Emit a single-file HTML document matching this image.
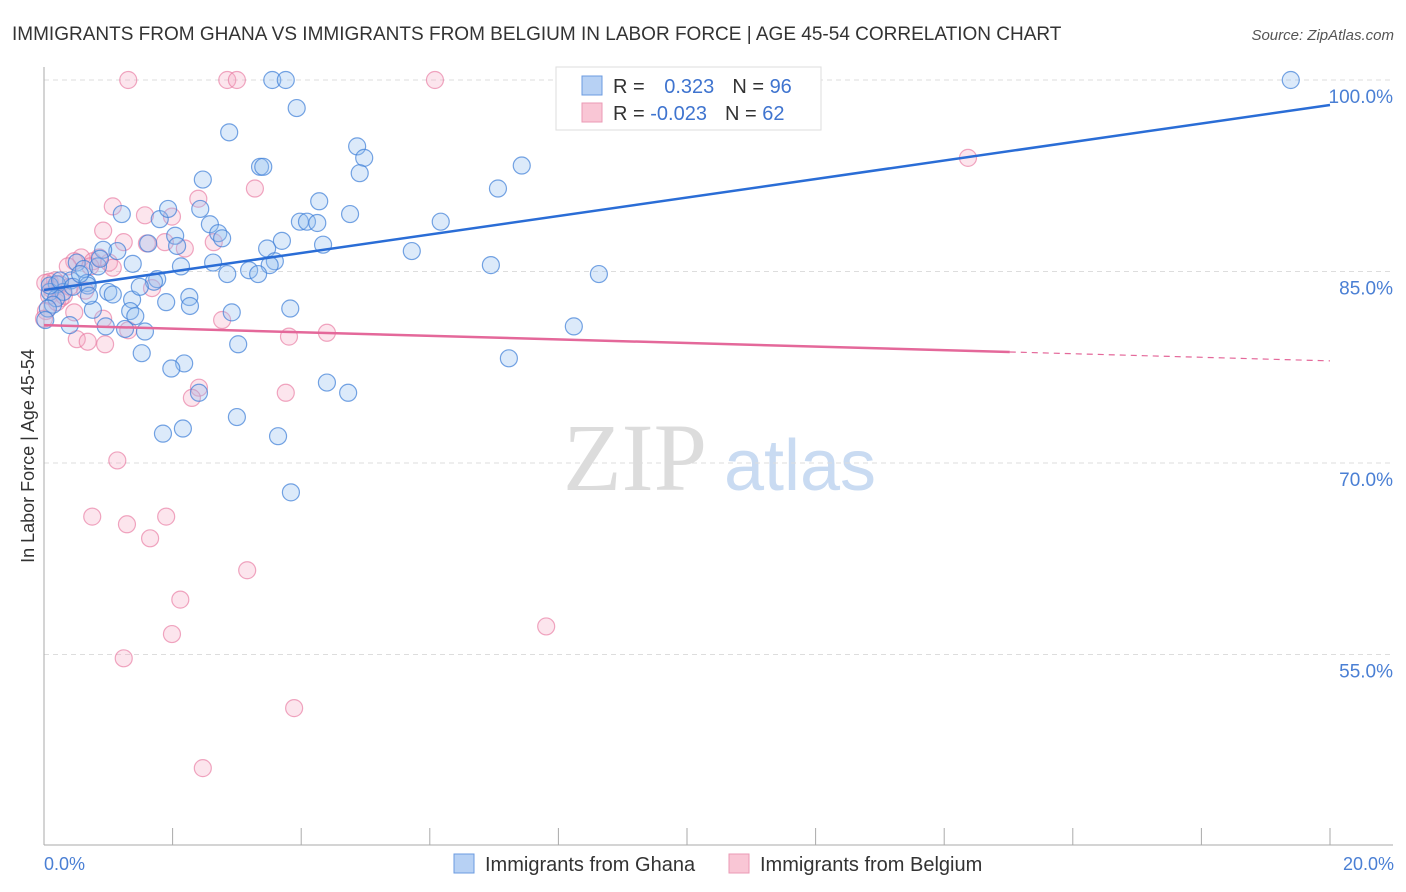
<!DOCTYPE html>
<html><head><meta charset="utf-8">
<style>
body{margin:0;background:#fff;font-family:"Liberation Sans",sans-serif;}
svg{display:block}
</style></head>
<body>
<svg id="chart" width="1406" height="892">
<text x="12" y="40" font-size="19" fill="#333">IMMIGRANTS FROM GHANA VS IMMIGRANTS FROM BELGIUM IN LABOR FORCE | AGE 45-54 CORRELATION CHART</text>
<text x="1394" y="40" font-size="15" fill="#555" font-style="italic" text-anchor="end">Source: ZipAtlas.com</text>
<g>
<text x="635" y="490" font-size="96" fill="#dcdcdc" font-family="Liberation Serif,serif" text-anchor="middle">ZIP</text>
<text x="800" y="490" font-size="72" fill="#c9dbf2" text-anchor="middle">atlas</text>
</g>
<g id="grid"></g>
<g id="axes"></g>
<g id="marks"></g>
<g id="trends"></g>
<text x="34" y="456" font-size="18" fill="#333" text-anchor="middle" transform="rotate(-90 34 456)">In Labor Force | Age 45-54</text>
<text x="44" y="870" font-size="18" fill="#4a7fd4">0.0%</text>
<text x="1394" y="870" font-size="18" fill="#4a7fd4" text-anchor="end">20.0%</text>
<g>
<rect x="556" y="67" width="265" height="63" fill="#fff" stroke="#ddd"/>
<rect x="582" y="76" width="20" height="19" fill="#b7d1f4" stroke="#6b9be0"/>
<rect x="582" y="103" width="20" height="19" fill="#f9c6d5" stroke="#eb9ab5"/>
<text x="613" y="93" font-size="20" fill="#333">R = <tspan fill="#3f74cf" dx="14">0.323</tspan><tspan dx="18">N = </tspan><tspan fill="#3f74cf">96</tspan></text>
<text x="613" y="120" font-size="20" fill="#333">R = <tspan fill="#3f74cf">-0.023</tspan><tspan dx="18">N = </tspan><tspan fill="#3f74cf">62</tspan></text>
</g>
<g>
<rect x="454" y="854" width="20" height="19" fill="#b7d1f4" stroke="#6b9be0"/>
<text x="485" y="871" font-size="20" fill="#333">Immigrants from Ghana</text>
<rect x="729" y="854" width="20" height="19" fill="#f9c6d5" stroke="#eb9ab5"/>
<text x="760" y="871" font-size="20" fill="#333">Immigrants from Belgium</text>
</g>
</svg>
<script>
const yTicks=[100,85,70,55];
const yTickLabels=["100.0%","85.0%","70.0%","55.0%"];
const xTicks=[2,4,6,8,10,12,14,16,18,20];
const ghanaX=[19.39,3.55,3.76,3.93,2.88,3.36,3.41,4.87,4.98,4.91,7.43,7.06,2.47,4.28,4.76,6.17,3.98,4.09,4.25,1.21,1.80,1.93,2.43,2.58,2.04,2.71,2.77,3.70,4.34,3.47,1.62,2.07,5.72,1.14,0.92,6.95,2.63,3.59,3.51,3.19,3.33,2.85,2.13,1.38,8.63,0.51,0.62,0.84,0.67,0.42,0.20,0.30,0.09,0.19,0.14,0.06,0.68,1.00,1.07,1.37,1.76,1.71,1.49,1.90,2.26,2.27,2.92,3.83,1.34,1.42,0.76,0.70,0.40,0.96,1.26,1.57,8.24,3.02,1.52,2.18,1.98,7.23,4.40,4.73,2.41,3.00,2.16,1.85,3.64,3.84,0.09,0.25,0.02,0.45,0.56,0.87];
const ghanaY=[100,100,100,97.8,95.9,93.2,93.2,94.8,93.9,92.7,93.3,91.5,92.2,90.5,89.5,88.9,88.9,88.9,88.8,89.5,89.1,89.9,89.9,88.7,87.8,88.0,87.6,87.4,87.1,86.8,87.2,87.0,86.6,86.6,86.7,85.5,85.7,85.8,85.5,85.1,84.8,84.8,85.4,85.6,84.8,85.7,85.2,85.4,84.1,84.3,84.0,83.4,83.4,82.9,82.4,82.1,83.9,83.4,83.2,82.8,84.4,84.2,83.8,82.6,83.0,82.3,81.8,82.1,81.9,81.5,82.0,83.1,80.8,80.7,80.5,80.3,80.7,79.3,78.6,77.8,77.4,78.2,76.3,75.5,75.5,73.6,72.7,72.3,72.1,67.7,83.9,84.3,81.2,83.8,84.8,86.0];
const belgiumX=[1.31,2.85,3.00,6.08,14.37,3.28,2.40,1.07,1.57,1.99,0.92,1.24,1.60,1.88,2.19,2.64,0.58,0.76,1.01,0.86,0.47,0.37,0.72,1.07,0.17,0.12,0.08,0.26,0.03,0.00,0.47,0.92,1.68,0.51,0.68,0.95,1.31,2.77,3.81,4.40,2.41,2.30,3.76,1.14,0.75,1.29,1.90,1.65,3.16,2.12,1.99,7.81,1.24,3.89,2.47,0.09,0.25,0.64,0.02,0.40,0.20,0.31];
const belgiumY=[100,100,100,100,93.9,91.5,90.7,90.1,89.4,89.3,88.2,87.3,87.2,87.3,86.8,87.3,86.1,85.8,85.7,86.1,85.8,85.4,85.4,85.3,84.3,83.6,83.1,82.9,81.9,81.3,81.8,81.3,83.7,79.7,79.5,79.3,80.4,81.2,79.9,80.2,75.9,75.1,75.5,70.2,65.8,65.2,65.8,64.1,61.6,59.3,56.6,57.2,54.7,50.8,46.1,84.2,84.0,83.5,84.1,83.8,82.6,83.1];
const ghanaTrend=[83.55,98.04];
const belgiumTrend=[80.8,78.0];
const belgiumSolidEnd=15.02;

const NS="http://www.w3.org/2000/svg";
function xs(v){return 44+v/20*1286;}
function ys(v){return 80+(100-v)/15*191.5;}
function mk(tag,attrs,parent){const e=document.createElementNS(NS,tag);for(const k in attrs)e.setAttribute(k,attrs[k]);parent.appendChild(e);return e;}
const grid=document.getElementById('grid'),axes=document.getElementById('axes'),marks=document.getElementById('marks'),trends=document.getElementById('trends');
yTicks.forEach((t,i)=>{
  const l=mk('line',{x1:44,x2:1393,y1:ys(t),y2:ys(t),stroke:'#ddd','stroke-dasharray':'5,4'},grid);
  
  
  const tx=mk('text',{x:1393,y:ys(t)+23,'font-size':19,fill:'#4a7fd4','text-anchor':'end'},grid);
  tx.textContent=yTickLabels[i];
  
  
});
const ya=mk('line',{x1:44,x2:44,y1:67,y2:845,stroke:'#aaa'},axes);


const xa=mk('line',{x1:44,x2:1393,y1:845,y2:845,stroke:'#aaa'},axes);


xTicks.forEach(t=>{
  const l=mk('line',{x1:xs(t),x2:xs(t),y1:828,y2:845,stroke:'#aaa'},axes);
  
  
});
belgiumX.forEach((v,i)=>{
  const c=mk('circle',{cx:xs(v),cy:ys(belgiumY[i]),r:8.5,fill:'rgba(246,170,195,0.3)',stroke:'rgba(232,120,160,0.65)','stroke-width':1.2},marks);
  
  
});
ghanaX.forEach((v,i)=>{
  const c=mk('circle',{cx:xs(v),cy:ys(ghanaY[i]),r:8.5,fill:'rgba(150,190,240,0.33)',stroke:'rgba(60,125,215,0.7)','stroke-width':1.2},marks);
  
  
});
const gt=mk('line',{x1:xs(0),y1:ys(ghanaTrend[0]),x2:xs(20),y2:ys(ghanaTrend[1]),stroke:'#2a6dd6','stroke-width':2.5},trends);


const bMid=belgiumTrend[0]+(belgiumTrend[1]-belgiumTrend[0])*belgiumSolidEnd/20;
const bt=mk('line',{x1:xs(0),y1:ys(belgiumTrend[0]),x2:xs(belgiumSolidEnd),y2:ys(bMid),stroke:'#e4689a','stroke-width':2.5},trends);


const bd=mk('line',{x1:xs(belgiumSolidEnd),y1:ys(bMid),x2:xs(20),y2:ys(belgiumTrend[1]),stroke:'#e4689a','stroke-width':1.2,'stroke-dasharray':'6,5'},trends);


</script>
</body></html>
